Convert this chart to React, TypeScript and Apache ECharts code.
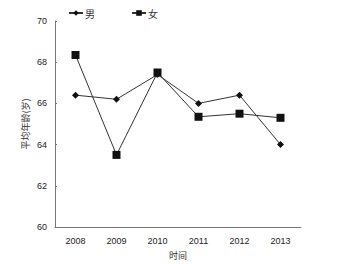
import React, { useEffect, useRef } from "react";
import * as echarts from "echarts";

const years = ["2008", "2009", "2010", "2011", "2012", "2013"];
const male = [66.4, 66.2, 67.4, 66.0, 66.4, 64.0];
const female = [68.35, 63.5, 67.5, 65.35, 65.5, 65.3];

export default function App() {
  const ref = useRef<HTMLDivElement>(null);
  useEffect(() => {
    const chart = echarts.init(ref.current!, null, { renderer: "svg" });
    const font = "'Liberation Sans', Arial, sans-serif";
    const cjk = "'Noto Sans CJK SC', sans-serif";
    chart.setOption({
      animation: false,
      backgroundColor: "#fff",
      textStyle: { fontFamily: font },
      grid: { left: 55, right: 41, top: 21, bottom: 42, containLabel: false },
      legend: {
        top: 3,
        left: 63,
        itemGap: 36,
        itemWidth: 14,
        itemHeight: 7,
        textStyle: { fontSize: 10, color: "#333", fontFamily: cjk, padding: [0, 0, 0, -3] },
        data: ["男", "女"],
      },
      xAxis: {
        type: "category",
        data: years,
        boundaryGap: true,
        name: "时间",
        nameLocation: "middle",
        nameGap: 24,
        nameMoveOverlap: false,
        nameTextStyle: { fontSize: 9, color: "#333", fontFamily: cjk },
        axisLine: { lineStyle: { color: "#777", width: 1 } },
        axisTick: { inside: true, length: 4, lineStyle: { color: "#777" } },
        axisLabel: { fontSize: 9, color: "#222", margin: 9 },
      },
      yAxis: {
        type: "value",
        min: 60,
        max: 70,
        interval: 2,
        name: "平均年龄(岁)",
        nameLocation: "middle",
        nameGap: 25,
        nameMoveOverlap: false,
        nameTextStyle: { fontSize: 9, color: "#333", fontFamily: cjk },
        splitLine: { show: false },
        axisLine: { show: true, lineStyle: { color: "#777", width: 1 } },
        axisTick: { show: true, inside: true, length: 2, lineStyle: { color: "#777" } },
        axisLabel: { fontSize: 9, color: "#222", margin: 8 },
      },
      series: [
        {
          name: "男",
          type: "line",
          data: male,
          symbol: "diamond",
          symbolSize: 7,
          itemStyle: { color: "#111" },
          lineStyle: { color: "#333", width: 1 },
        },
        {
          name: "女",
          type: "line",
          data: female,
          symbol: "rect",
          symbolSize: 8,
          itemStyle: { color: "#111" },
          lineStyle: { color: "#333", width: 1 },
        },
      ],
    });
    return () => chart.dispose();
  }, []);
  return <div ref={ref} style={{ width: 342, height: 269, position: "absolute", left: 0, top: 0 }} />;
}
